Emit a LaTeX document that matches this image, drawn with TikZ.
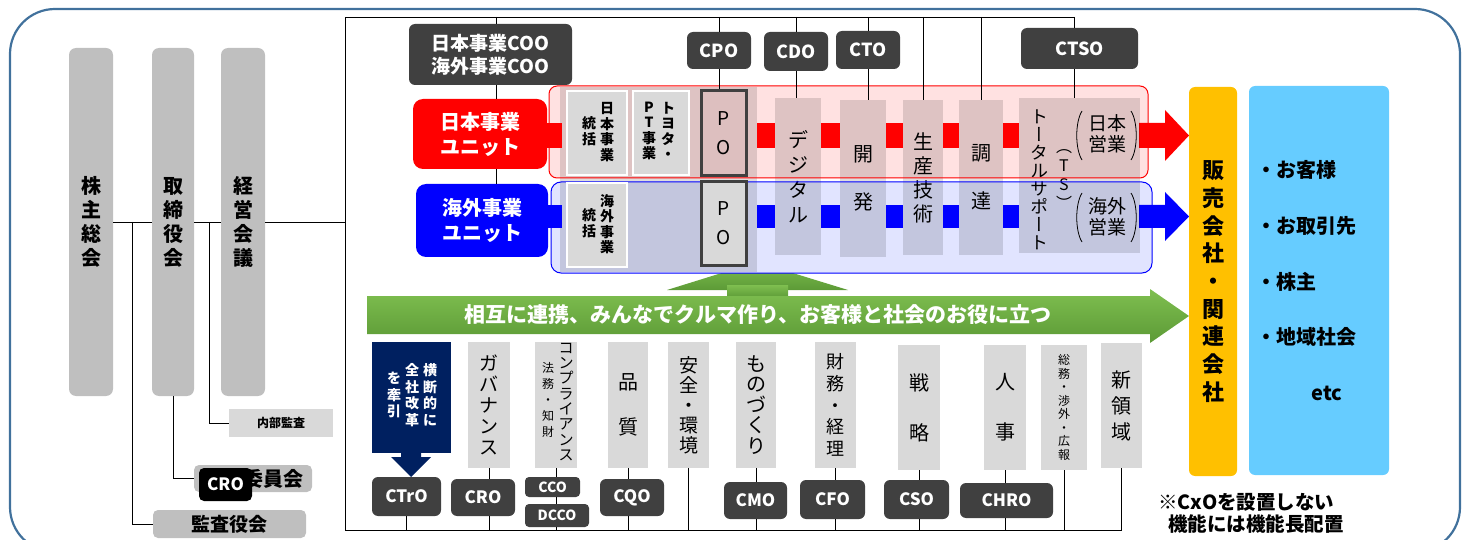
\documentclass[tikz,border=0pt]{standalone}
\usepackage{fontspec}
\setmainfont{Noto Sans CJK JP}
\newfontfamily\vjp{Noto Sans CJK JP}[RawFeature=+vert]
\usetikzlibrary{arrows.meta}
\definecolor{dk}{HTML}{404040}
\definecolor{pil}{HTML}{BFBFBF}
\definecolor{lg}{HTML}{D9D9D9}
\definecolor{pinkp}{HTML}{FFE1E1}
\definecolor{bluep}{HTML}{E1E4FF}
\definecolor{pinkpo}{HTML}{DDBFBF}
\definecolor{navy}{HTML}{002060}
\definecolor{orng}{HTML}{FFC000}
\definecolor{sky}{HTML}{66CCFF}
\definecolor{frameb}{HTML}{41719C}
\definecolor{grnT}{HTML}{7FBF50}
\definecolor{grnB}{HTML}{5C9A36}
\newcommand\fsz[2]{\fontsize{#1}{#2}\selectfont}
\newcommand\mybox[7]{\node[#1, minimum width={(#5)-(#3)}, minimum height={(#6)-(#4)}] (#2) at ({((#3)+(#5))/2},{((#4)+(#6))/2}) {#7};}
\tikzset{
  pillar/.style={fill=pil, rounded corners=7pt, font=\fsz{20}{24}\bfseries, align=center, inner sep=0pt},
  dbox/.style={fill=dk, rounded corners=6pt, text=white, inner sep=0pt, align=center, font=\fsz{17}{20}\bfseries},
  lbox/.style={fill=lg, inner sep=0pt, align=center},
  gbox/.style={fill=pil, rounded corners=5pt, inner sep=0pt, align=center},
  gsm/.style={fill=lg, draw=white, line width=1.5pt, inner sep=0pt},
  colov/.style={fill=black, fill opacity=0.13, text opacity=1, inner sep=0pt, align=center},
  pobox/.style={draw=dk, line width=3pt, inner sep=0pt, align=center, font=\fsz{19}{29}},
  unit/.style={rounded corners=10pt, text=white, inner sep=0pt, align=center, font=\fsz{20}{25}\bfseries},
  vt/.style={align=center, inner sep=0pt},
  ln/.style={draw=black, line width=0.9pt},
}
\begin{document}
\begin{tikzpicture}[x=1pt,y=-1pt]
\useasboundingbox (0,0) rectangle (1462,540);
\clip (0,0) rectangle (1462,540);
\draw[frameb, line width=2.2pt, rounded corners=45pt] (10,9) rectangle (1460,552);

% governance pillars
\mybox{pillar}{kabu}{69}{48}{113}{396}{株\\主\\総\\会}
\mybox{pillar}{tori}{152}{48}{194}{396}{取\\締\\役\\会}
\mybox{pillar}{keiei}{221}{48}{265}{396}{経\\営\\会\\議}

\coordinate (ftl) at (345,17);
\coordinate (ftr) at (1074,17);
\coordinate (fbl) at (345,530);
\coordinate (fbr) at (1122,530);
\coordinate (j1) at (132,222);
\coordinate (j2) at (209,222);

\mybox{lbox, font=\fsz{12}{14}\bfseries}{naibu}{229}{409}{333}{437}{内部監査}
\mybox{gbox}{iin}{194}{465}{312}{492}{}
\node[anchor=east, inner sep=0pt, font=\fsz{20}{20}\bfseries] (iintxt) at (304,479) {委員会};
\mybox{gbox, font=\fsz{19}{20}\bfseries}{kansa}{153}{510}{306}{538}{監査役会}
\mybox{dbox, fill=black, rounded corners=5pt, font=\fsz{17}{20}\bfseries}{cro1}{199}{468}{252}{501}{CRO}

\draw[ln] (kabu.east) -- (tori.west);
\draw[ln] (tori.east) -- (keiei.west);
\draw[ln] (keiei.east) -- (keiei.east -| ftl);
\draw[ln] (j1) |- (kansa.west);
\draw[ln] (j2) |- (naibu.west);
\draw[ln] (tori.south) |- (iin.west);

% frame
\draw[ln] (ftr) -- (ftl) -- (fbl) -- (fbr);

% green up arrow (behind the panels)
\shade[top color=grnT, bottom color=grnB] (667,290) -- (757,262) -- (848,290) -- cycle;
\shade[top color=grnT, bottom color=grnB] (727,285) rectangle (788,298);

% panels
\fill[pinkp, rounded corners=8pt] (549,86) rectangle (1148,178);
\fill[bluep, rounded corners=10pt] (551,182) rectangle (1152,273);
\fill[black, opacity=.13] (560,87) rectangle (757,272);

% band segments
\fill[red] (545,123) rectangle (562,148);
\fill[blue] (546,205) rectangle (562,228);
\foreach \a/\b in {757/775, 821/840, 886/903, 943/959, 1003/1019} {
  \fill[red] (\a,123) rectangle (\b,148);
  \fill[blue] (\a,205) rectangle (\b,228);
}
\fill[red] (1139,123) -- (1165,123) -- (1165,110) -- (1189,135.5) -- (1165,161) -- (1165,148) -- (1139,148) -- cycle;
\fill[blue] (1139,205) -- (1165,205) -- (1165,192) -- (1189,216.5) -- (1165,241) -- (1165,228) -- (1139,228) -- cycle;

% function columns
\mybox{colov, font=\fsz{20}{25}}{dig}{775}{98}{821}{255}{デ\\ジ\\タ\\ル}
\mybox{colov, font=\fsz{20}{48}}{kai}{840}{100}{886}{257}{開\\発}
\mybox{colov, font=\fsz{20}{24}}{sei}{903}{100}{943}{255}{生\\産\\技\\術}
\mybox{colov, font=\fsz{20}{48}}{cho}{959}{100}{1003}{255}{調\\達}
\mybox{colov}{ts}{1019}{98}{1140}{253}{}
\node[vt, font={\vjp\fsz{18}{18}}] (tstxt) at (1039,180) {ト\\ー\\タ\\ル\\サ\\ポ\\ー\\ト};
\node[vt, font={\vjp\fsz{16}{19}}] (tsab) at (1064,180) {（\\T\\S\\）};
\node[vt, font=\fsz{19}{21}] (jeig) at (1107,134) {日本\\営業};
\node[vt, font=\fsz{19}{21}] (keig) at (1107,217) {海外\\営業};
\draw[line width=0.8pt] (1082,111) .. controls (1075,122) and (1075,149) .. (1082,160);
\draw[line width=0.8pt] (1131,111) .. controls (1138,122) and (1138,149) .. (1131,160);
\draw[line width=0.8pt] (1082,193) .. controls (1075,204) and (1075,231) .. (1082,242);
\draw[line width=0.8pt] (1131,193) .. controls (1138,204) and (1138,231) .. (1131,242);

% panel borders
\draw[red, line width=1pt, rounded corners=8pt] (549,86) rectangle (1148,178);
\draw[blue, line width=1pt, rounded corners=10pt] (551,182) rectangle (1152,273);

% grey boxes in panels
\mybox{gsm}{jtou}{567}{91}{627}{175}{}
\node[vt, font=\fsz{14}{15.5}\bfseries] (jtou1) at (607,132) {日\\本\\事\\業};
\node[vt, font=\fsz{14}{15.5}\bfseries] (jtou2) at (589,131) {統\\括};
\mybox{gsm}{toyo}{633}{91}{689}{175}{}
\node[vt, font=\fsz{14}{15.5}\bfseries] (toyo1) at (668,131) {ト\\ヨ\\タ\\・};
\node[vt, font=\fsz{14}{15.5}\bfseries] (toyo2) at (649,131) {P\\T\\事\\業};
\mybox{gsm}{ktou}{567}{183}{627}{267}{}
\node[vt, font=\fsz{14}{15.5}\bfseries] (ktou1) at (607,224) {海\\外\\事\\業};
\node[vt, font=\fsz{14}{15.5}\bfseries] (ktou2) at (589,223) {統\\括};

\mybox{pobox, fill=pinkpo}{po1}{701}{91}{746}{176}{P\\O}
\mybox{pobox, fill=lg}{po2}{701}{182}{746}{265}{P\\O}

% business units
\mybox{unit, fill=red}{junit}{413}{99}{547}{169}{日本事業\\ユニット}
\mybox{unit, fill=blue}{kunit}{416}{184}{548}{257}{海外事業\\ユニット}

% top officers
\mybox{dbox, font=\fsz{19}{23}\bfseries}{coo}{409}{24}{572}{85}{日本事業COO\\海外事業COO}
\mybox{dbox, font=\fsz{18}{20}\bfseries}{cpo}{687}{32}{751}{69}{CPO}
\mybox{dbox, font=\fsz{18}{20}\bfseries}{cdo}{764}{32}{828}{71}{CDO}
\mybox{dbox, font=\fsz{18}{20}\bfseries}{cto}{836}{31}{900}{69}{CTO}
\mybox{dbox, font=\fsz{18}{20}\bfseries}{ctso}{1021}{28}{1138}{69}{CTSO}

\coordinate (cx1) at (496,0);
\coordinate (cx2) at (1074,0);
\draw[ln] (cx1 |- ftl) -- (cx1 |- coo.north);
\draw[ln] (cx1 |- coo.south) -- (cx1 |- junit.north);
\draw[ln] (cx1 |- junit.south) -- (cx1 |- kunit.north);
\draw[ln] (cpo.north |- ftl) -- (cpo.north);
\draw[ln] (cpo.south) -- (cpo.south |- po1.north);
\draw[ln] (cdo.north |- ftl) -- (cdo.north);
\draw[ln] (cdo.south) -- (cdo.south |- dig.north);
\draw[ln] (cto.north |- ftl) -- (cto.north);
\draw[ln] (cto.south) -- (cto.south |- kai.north);
\draw[ln] (sei.north |- ftl) -- (sei.north);
\draw[ln] (cho.north |- ftl) -- (cho.north);
\draw[ln] (cx2 |- ftl) -- (cx2 |- ctso.north);
\draw[ln] (cx2 |- ctso.south) -- (cx2 |- ts.north);

% green arrow
\shade[top color=grnT, bottom color=grnB] (367,296) -- (1150,296) -- (1150,289) -- (1189,316) -- (1150,343) -- (1150,334) -- (367,334) -- cycle;
\node[font=\fsz{21}{21}\bfseries, text=white, inner sep=0pt] (motto) at (758,315) {相互に連携、みんなでクルマ作り、お客様と社会のお役に立つ};

% bottom functions
\mybox{lbox, fill=navy}{ctr}{372}{342}{451}{453}{}
\fill[navy] (401,452) -- (421,452) -- (421,457) -- (431,457) -- (411,477) -- (391,457) -- (401,457) -- cycle;
\node[vt, text=white, font=\fsz{14}{16.5}\bfseries] (ctr1) at (430,395) {横\\断\\的\\に};
\node[vt, text=white, font=\fsz{14}{16.5}\bfseries] (ctr2) at (412,395) {全\\社\\改\\革};
\node[vt, text=white, font=\fsz{14}{16.5}\bfseries] (ctr3) at (394,395) {を\\牽\\引};

\mybox{lbox, font=\fsz{19}{21}}{gov}{468}{342}{510}{468}{ガ\\バ\\ナ\\ン\\ス}
\mybox{lbox}{comp}{535}{342}{577}{468}{}
\node[vt, font=\fsz{15}{15.3}] (comp1) at (566,402) {コ\\ン\\プ\\ラ\\イ\\ア\\ン\\ス};
\node[vt, font=\fsz{12}{16}] (comp2) at (548,400) {法\\務\\・\\知\\財};
\mybox{lbox, font=\fsz{20}{45}}{qual}{608}{342}{648}{468}{品\\質}
\mybox{lbox, font=\fsz{19}{20}}{safe}{668}{342}{709}{468}{安\\全\\・\\環\\境}
\mybox{lbox, font=\fsz{20}{20.5}}{mono}{736}{342}{776}{468}{も\\の\\づ\\く\\り}
\mybox{lbox, font=\fsz{18}{21.7}}{fin}{815}{342}{856}{468}{財\\務\\・\\経\\理}
\mybox{lbox, font=\fsz{20}{50}}{strat}{898}{345}{940}{470}{戦\\略}
\mybox{lbox, font=\fsz{20}{50}}{hr}{984}{345}{1026}{470}{人\\事}
\mybox{lbox, font=\fsz{12}{13.5}}{ga}{1041}{345}{1087}{470}{総\\務\\・\\渉\\外\\・\\広\\報}
\mybox{lbox, font=\fsz{20}{26}}{new}{1101}{343}{1142}{468}{新\\領\\域}

\mybox{dbox}{ctro}{372}{477}{441}{516}{CTrO}
\mybox{dbox}{cro2}{451}{479}{515}{516}{CRO}
\mybox{dbox, font=\fsz{14}{16}\bfseries, rounded corners=4pt}{cco}{525}{477}{580}{497}{CCO}
\mybox{dbox, font=\fsz{14}{16}\bfseries, rounded corners=4pt}{dcco}{525}{504}{589}{527}{DCCO}
\mybox{dbox}{cqo}{600}{479}{664}{516}{CQO}
\mybox{dbox}{cmo}{724}{482}{787}{519}{CMO}
\mybox{dbox}{cfo}{800}{480}{865}{519}{CFO}
\mybox{dbox}{cso}{884}{480}{949}{519}{CSO}
\mybox{dbox}{chro}{960}{483}{1053}{518}{CHRO}

\draw[ln] (ctro.south) -- (ctro.south |- fbl);
\draw[ln] (gov.south) -- (gov.south |- cro2.north);
\draw[ln] (gov.south |- cro2.south) -- (gov.south |- fbl);
\draw[ln] (comp.south) -- (comp.south |- cco.north);
\draw[ln] (comp.south |- cco.south) -- (comp.south |- dcco.north);
\draw[ln] (comp.south |- dcco.south) -- (comp.south |- fbl);
\draw[ln] (qual.south) -- (qual.south |- cqo.north);
\draw[ln] (qual.south |- cqo.south) -- (qual.south |- fbl);
\draw[ln] (safe.south) -- (safe.south |- fbl);
\draw[ln] (mono.south) -- (mono.south |- cmo.north);
\draw[ln] (mono.south |- cmo.south) -- (mono.south |- fbl);
\draw[ln] (fin.south) -- (fin.south |- cfo.north);
\draw[ln] (fin.south |- cfo.south) -- (fin.south |- fbl);
\draw[ln] (strat.south) -- (strat.south |- cso.north);
\draw[ln] (strat.south |- cso.south) -- (strat.south |- fbl);
\draw[ln] (hr.south) -- (hr.south |- chro.north);
\draw[ln] (hr.south |- chro.south) -- (hr.south |- fbl);
\draw[ln] (ga.south) -- (ga.south |- fbl);
\draw[ln] (new.south) -- (new.south |- fbl);

% sales companies and stakeholders
\mybox{lbox, fill=orng, rounded corners=6pt, font=\fsz{22}{27.7}\bfseries}{hanbai}{1189}{87}{1237}{476}{販\\売\\会\\社\\・\\関\\連\\会\\社}
\mybox{lbox, fill=sky, rounded corners=6pt}{stake}{1249}{86}{1389}{475}{}
\node[anchor=west, inner sep=0pt, font=\fsz{20}{22}\bfseries] (s1) at (1256,170) {・お客様};
\node[anchor=west, inner sep=0pt, font=\fsz{20}{22}\bfseries] (s2) at (1256,226) {・お取引先};
\node[anchor=west, inner sep=0pt, font=\fsz{20}{22}\bfseries] (s3) at (1256,282) {・株主};
\node[anchor=west, inner sep=0pt, font=\fsz{20}{22}\bfseries] (s4) at (1256,337) {・地域社会};
\node[inner sep=0pt, font=\fsz{20}{22}\bfseries] (s5) at (1327,393) {etc};
\node[anchor=west, inner sep=0pt, font=\fsz{19.5}{20}\bfseries] (note1) at (1158,502) {※CxOを設置しない};
\node[anchor=west, inner sep=0pt, font=\fsz{19.5}{20}\bfseries] (note2) at (1168,524) {機能には機能長配置};
\end{tikzpicture}
\end{document}
